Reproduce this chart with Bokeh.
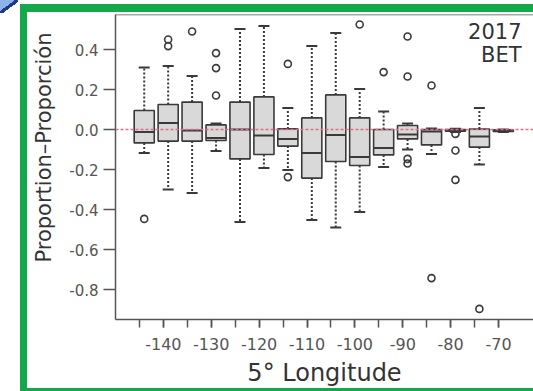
from bokeh.plotting import figure
from bokeh.models import (Range1d, FixedTicker, CustomJSTickFormatter, Span, Label, Title,
                          ColumnDataSource)
from bokeh.embed import file_html
from bokeh.resources import INLINE

# ---- data ----
LON = [-145, -140, -135, -130, -125, -120, -115, -110, -105, -100, -95, -90, -85, -80, -75, -70]
LOWER = [-0.117, -0.300, -0.317, -0.108, -0.463, -0.192, -0.202, -0.452, -0.490, -0.413, -0.188, -0.100, -0.122, -0.012, -0.175, -0.012]
Q1 = [-0.067, -0.058, -0.058, -0.055, -0.147, -0.125, -0.083, -0.243, -0.160, -0.180, -0.127, -0.047, -0.077, -0.008, -0.088, -0.010]
MEDIAN = [-0.013, 0.032, -0.005, -0.042, 0.000, -0.030, -0.047, -0.118, -0.027, -0.138, -0.093, -0.025, -0.010, -0.004, -0.035, -0.006]
Q3 = [0.095, 0.125, 0.137, 0.023, 0.137, 0.163, 0.003, 0.058, 0.173, 0.058, 0.000, 0.020, 0.000, 0.000, 0.002, -0.002]
UPPER = [0.310, 0.317, 0.267, 0.030, 0.503, 0.517, 0.108, 0.417, 0.483, 0.203, 0.090, 0.030, 0.005, 0.004, 0.108, 0.000]

OUT_LON = [-145, -140, -140, -135, -130, -130, -130, -115, -115, -100, -95, -90, -90, -90, -90, -85, -85, -80, -80, -80, -75]
OUT_VAL = [-0.447, 0.450, 0.417, 0.490, 0.382, 0.307, 0.170, 0.328, -0.238, 0.525, 0.287, 0.465, 0.265, -0.147, -0.170, 0.220, -0.743, -0.022, -0.105, -0.252, -0.897]

X_MAJOR = [-140, -130, -120, -110, -100, -90, -80, -70]
X_MINOR = [-145, -140, -135, -130, -125, -120, -115, -110, -105, -100, -95, -90, -85, -80, -75, -70]
Y_TICKS = [-0.8, -0.6, -0.4, -0.2, 0.0, 0.2, 0.4]

YEAR = "2017"
SPECIES = "BET"
X_TITLE = "5\u00b0 Longitude"
Y_TITLE = "Proportion\u2013Proporci\u00f3n"

# ---- styles ----
BOX_SHIFT = 1.0
BOX_W = 4.2
CAP_W = 2.3
INK = "#3a3a3a"
AXIS = "#555555"
FONT = "DejaVu Sans"
GREEN = "#14a84b"
TAG_X = -65.2
TAG_Y1 = 0.495
TAG_Y2 = 0.375

bx = [v + BOX_SHIFT for v in LON]
box_src = ColumnDataSource(dict(
    x=bx, lower=LOWER, q1=Q1, med=MEDIAN, q3=Q3, upper=UPPER,
    xl=[v - BOX_W / 2 for v in bx], xr=[v + BOX_W / 2 for v in bx],
    cl=[v - CAP_W / 2 for v in bx], cr=[v + CAP_W / 2 for v in bx],
))

p = figure(width=533, height=391, output_backend="svg", toolbar_location=None,
           x_range=Range1d(-150.0, -62.7), y_range=Range1d(-0.95, 0.575),
           min_border_left=115, min_border_right=0, min_border_top=14, min_border_bottom=72)
p.outline_line_color = None
p.xgrid.grid_line_color = None
p.ygrid.grid_line_color = None
p.background_fill_color = "white"
p.border_fill_color = None
g = f"linear-gradient({GREEN},{GREEN})"
corner = "linear-gradient(to bottom right, #8db4e6 0 42%, #1f3a8a 42% 58%, transparent 58%)"
p.styles = {"background": f"{corner} 0 0/18px 13px no-repeat, "
                          f"{g} 20px 4px/7px 387px no-repeat, {g} 20px 4px/513px 8px no-repeat, "
                          f"{g} 20px 388px/513px 3px no-repeat, #ffffff"}

# whiskers (dotted) and caps
p.segment(x0="x", y0="q3", x1="x", y1="upper", source=box_src, line_color=INK, line_width=2, line_dash="2 2")
p.segment(x0="x", y0="q1", x1="x", y1="lower", source=box_src, line_color=INK, line_width=2, line_dash="2 2")
p.segment(x0="cl", y0="upper", x1="cr", y1="upper", source=box_src, line_color=INK, line_width=2)
p.segment(x0="cl", y0="lower", x1="cr", y1="lower", source=box_src, line_color=INK, line_width=2)
# boxes
p.vbar(x="x", width=BOX_W, bottom="q1", top="q3", source=box_src,
       fill_color="#d9d9d9", line_color=INK, line_width=1.6)
p.segment(x0="xl", y0="med", x1="xr", y1="med", source=box_src, line_color=INK, line_width=2)
# outliers
p.scatter([v + BOX_SHIFT for v in OUT_LON], OUT_VAL, marker="circle", size=7,
          fill_color=None, line_color=INK, line_width=1.6)

# zero reference line and top frame line
p.add_layout(Span(location=0, dimension="width", line_color="#e0708a", line_width=1.3, line_dash="3 2"))
p.add_layout(Span(location=p.y_range.end, dimension="width", line_color=AXIS, line_width=1.5))

# axes
p.xaxis.ticker = FixedTicker(ticks=X_MAJOR, minor_ticks=X_MINOR)
p.xaxis.formatter = CustomJSTickFormatter(code="return tick.toFixed(0)")
p.yaxis.ticker = FixedTicker(ticks=Y_TICKS)
p.yaxis.formatter = CustomJSTickFormatter(code="return tick.toFixed(1)")
for ax in (p.xaxis, p.yaxis):
    ax.axis_line_color = AXIS
    ax.axis_line_width = 1.5
    ax.major_tick_line_color = AXIS
    ax.major_tick_line_width = 1.5
    ax.minor_tick_line_color = AXIS
    ax.minor_tick_line_width = 1.5
    ax.major_tick_in = 0
    ax.minor_tick_in = 0
    ax.major_label_text_font = FONT
    ax.major_label_text_color = AXIS
    ax.axis_label_text_font = FONT
    ax.axis_label_text_font_style = "normal"
    ax.axis_label_text_color = "#333333"
p.xaxis.major_tick_out = 8
p.xaxis.minor_tick_out = 8
p.xaxis.major_label_text_font_size = "16px"
p.xaxis.major_label_standoff = 10
p.xaxis.axis_label = X_TITLE
p.xaxis.axis_label_text_font_size = "24px"
p.xaxis.axis_label_standoff = 6
p.yaxis.major_tick_out = 12
p.yaxis.minor_tick_out = 0
p.yaxis.major_label_text_font_size = "15px"
p.yaxis.major_label_standoff = 5

# y title (placed toward the top like the reference)
p.add_layout(Title(text=Y_TITLE, align="right", offset=18, standoff=21, text_font=FONT,
                   text_font_size="21px", text_font_style="normal", text_color="#333333"), "left")

# year / species tag
p.add_layout(Label(x=TAG_X, y=TAG_Y1, text=YEAR, text_align="right", text_baseline="alphabetic",
                   text_font=FONT, text_font_size="21px", text_color="#333333"))
p.add_layout(Label(x=TAG_X, y=TAG_Y2, text=SPECIES, text_align="right", text_baseline="alphabetic",
                   text_font=FONT, text_font_size="21px", text_color="#333333"))

open("out.html", "w").write(file_html(p, INLINE))
